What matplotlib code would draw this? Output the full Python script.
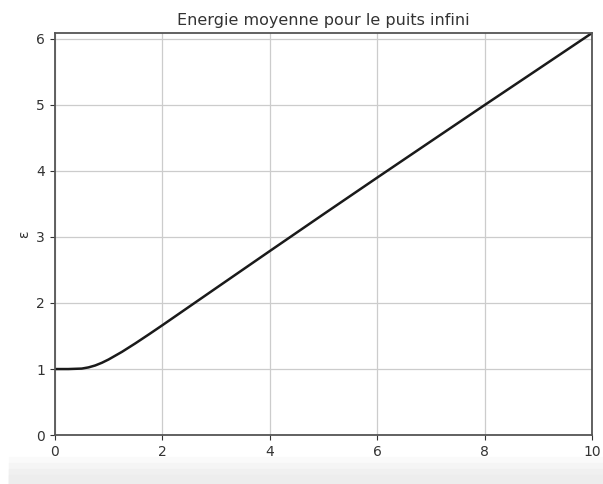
import numpy as np
import matplotlib
matplotlib.use("Agg")
import matplotlib.pyplot as plt
from matplotlib.patches import Rectangle

# values (mean energy vs reduced temperature)
tau = [0.0, 0.25, 0.5, 0.625, 0.75, 0.875, 1.0, 1.25, 1.5, 1.75, 2.0, 2.5, 3.0,
       4.0, 5.0, 6.0, 7.0, 8.0, 9.0, 10.0]
energy = [1.0, 1.0, 1.007, 1.025, 1.054, 1.095, 1.145, 1.261, 1.39, 1.525, 1.663,
          1.944, 2.225, 2.786, 3.344, 3.898, 4.448, 4.997, 5.542, 6.088]

x_ticks = [0, 2, 4, 6, 8, 10]
y_ticks = [0, 1, 2, 3, 4, 5, 6]

fig = plt.figure(figsize=(6.03, 4.84), dpi=100)
# soft grey band at the bottom of the screenshot
for i, c in enumerate(["#fafafa", "#f5f5f5", "#f0f0f0", "#ededed"]):
    fig.patches.append(Rectangle((0.015, 0), 0.985, 0.055 - i * 0.012,
                                 transform=fig.transFigure, color=c, zorder=0))
ax = fig.add_axes([0.091, 0.101, 0.891, 0.831])

ax.plot(tau, energy, color="#1a1a1a", lw=1.8)
ax.set_xlim(0, 10)
ax.set_ylim(0, max(energy))
ax.set_xticks(x_ticks)
ax.set_yticks(y_ticks)
ax.grid(True, color="#cccccc", lw=0.9)
ax.tick_params(labelsize=10, colors="#333333")
for s in ax.spines.values():
    s.set_color("#555555")
    s.set_linewidth(1.3)

ax.set_title("Energie moyenne pour le puits infini", fontsize=11.5, color="#333333")
ax.set_xlabel("τ", fontsize=10, color="#333333")
ax.set_ylabel("ε", fontsize=10, color="#333333")

fig.savefig("out.png", dpi=100)
